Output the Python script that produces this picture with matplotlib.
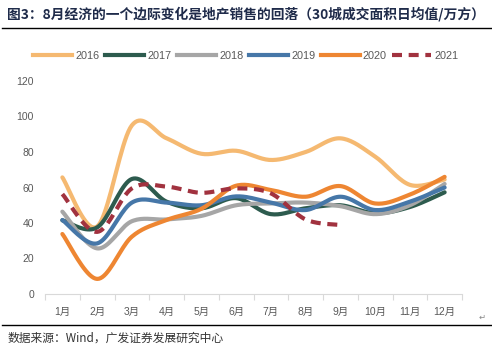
import numpy as np
import matplotlib
matplotlib.use("Agg")
import matplotlib.pyplot as plt
from matplotlib.lines import Line2D

plt.rcParams['font.family'] = ['Liberation Sans', 'Noto Sans CJK SC', 'DejaVu Sans']

months = ['1月', '2月', '3月', '4月', '5月', '6月', '7月', '8月', '9月', '10月', '11月', '12月']
y2016 = [65.7, 38, 95, 87.7, 79, 80.7, 75.5, 80, 87.7, 77.4, 61.5, 64.5]
y2017 = [41.5, 37.5, 64.8, 52, 48.3, 54, 45, 48.3, 50, 45.5, 49, 57.3]
y2018 = [46.4, 25.7, 41, 42, 44, 50, 51, 51.5, 49.5, 45, 50, 62]
y2019 = [41.7, 28.5, 51.5, 51.5, 50, 55, 51.5, 47.3, 54.8, 47.3, 52, 60]
y2020 = [33.8, 8.5, 32.3, 41.7, 48, 61, 58.6, 54.8, 60.8, 51, 56, 66]
y2021 = [56.3, 35, 59.5, 60.5, 57, 59.5, 56.7, 42, 38.9]

series = [
    ('2016', y2016, '#F5B971', '-'),
    ('2017', y2017, '#2D5B4E', '-'),
    ('2018', y2018, '#A6A6A6', '-'),
    ('2019', y2019, '#4677A8', '-'),
    ('2020', y2020, '#EE8632', '-'),
    ('2021', y2021, '#A1323F', (0, (2.4, 1.6))),
]


def smooth(y, n=20):
    # excel style smoothed line: bezier with 1/6 tangents
    y = np.asarray(y, float)
    x = np.arange(len(y), dtype=float)
    pts = np.column_stack([x, y])
    out = [pts[0]]
    t = np.linspace(0, 1, n + 1)[1:]
    for i in range(len(pts) - 1):
        p0 = pts[i - 1] if i > 0 else pts[i]
        p1 = pts[i]
        p2 = pts[i + 1]
        p3 = pts[i + 2] if i + 2 < len(pts) else pts[i + 1]
        c1 = p1 + (p2 - p0) / 6
        c2 = p2 - (p3 - p1) / 6
        for tt in t:
            b = ((1 - tt) ** 3) * p1 + 3 * ((1 - tt) ** 2) * tt * c1 + 3 * (1 - tt) * tt ** 2 * c2 + tt ** 3 * p2
            out.append(b)
    out = np.array(out)
    return out[:, 0], out[:, 1]


fig = plt.figure(figsize=(4.92, 3.5), dpi=100)
ax = fig.add_axes([45 / 492, 1 - 294 / 350, 417 / 492, 213 / 350])

handles = []
for name, ys, col, ls in series:
    sx, sy = smooth(ys)
    ax.plot(sx, sy, color=col, lw=3.0, ls=ls, solid_capstyle='round',
            dash_capstyle='butt')
    handles.append(Line2D([], [], color=col, lw=3.0, ls=ls))

ax.set_xlim(-0.5, 11.5)
ax.set_ylim(0, 120)
ax.set_yticks(range(0, 121, 20))
ax.set_xticks(range(12))
ax.set_xticklabels(months)
ax.set_xticks(np.arange(-0.5, 12, 1), minor=True)
ax.tick_params(axis='x', which='major', length=0, pad=9, labelsize=7.5, labelcolor='#595959')
ax.tick_params(axis='x', which='minor', length=4, color='#D9D9D9', width=0.8)
ax.tick_params(axis='y', length=0, pad=8, labelsize=7.5, labelcolor='#595959')
for s in ['top', 'right', 'left']:
    ax.spines[s].set_visible(False)
ax.spines['bottom'].set_color('#D9D9D9')
ax.spines['bottom'].set_linewidth(0.8)

fig.legend(handles, [s[0] for s in series], loc='center', bbox_to_anchor=(0.5, 1 - 56 / 350),
           ncol=6, frameon=False, fontsize=7.8, handlelength=3.6, columnspacing=0.5,
           handletextpad=0.3, labelcolor='#595959')

fig.text(7 / 492, 1 - 14 / 350, '图3：8月经济的一个边际变化是地产销售的回落（30城成交面积日均值/万方）',
         fontsize=9.9, fontweight='bold', color='#1F2B4A', va='center', ha='left',
         family=['Noto Sans CJK SC', 'DejaVu Sans'])
fig.add_artist(Line2D([2 / 492, 1.0], [1 - 28 / 350, 1 - 28 / 350], color='black', lw=1.0))
fig.add_artist(Line2D([2 / 492, 1.0], [1 - 325 / 350, 1 - 325 / 350], color='black', lw=1.0))
fig.text(8 / 492, 1 - 338 / 350, '数据来源：Wind，广发证券发展研究中心', fontsize=8.5, color='#333333',
         va='center', ha='left', family=['Noto Sans CJK SC', 'DejaVu Sans'])
fig.text(482 / 492, 1 - 317 / 350, '↵', fontsize=6, color='#888888', va='center', ha='center',
         family=['DejaVu Sans'])

fig.savefig('out.png', dpi=100)
